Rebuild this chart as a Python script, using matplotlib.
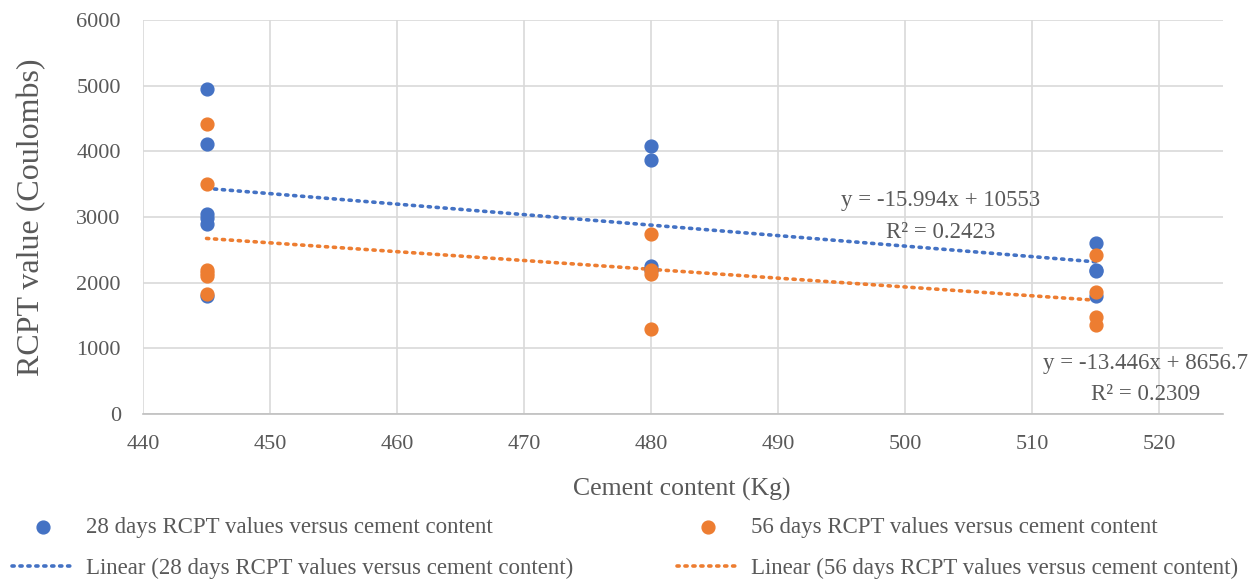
import numpy as np
import matplotlib.pyplot as plt

plt.rcParams['font.family'] = ['Liberation Serif', 'DejaVu Serif']

# 28 days RCPT values (Coulombs) against cement content (Kg)
cement_28 = [445, 445, 445, 445, 445, 445, 480, 480, 480, 480, 515, 515, 515, 515]
rcpt_28 = [4950, 4110, 3050, 2980, 2900, 1800, 4080, 3860, 2250, 2200, 2600, 2200, 2180, 1800]

# 56 days RCPT values
cement_56 = [445, 445, 445, 445, 445, 445, 480, 480, 480, 480, 515, 515, 515, 515]
rcpt_56 = [4420, 3500, 2200, 2150, 2100, 1830, 2740, 2200, 2130, 1300, 2420, 1850, 1480, 1350]

# trendline coefficients as printed on the chart
fit_28 = (-15.994, 10553)
fit_56 = (-13.446, 8656.7)
r2_28 = 0.2423
r2_56 = 0.2309

blue = '#4472C4'
orange = '#ED7D31'
grey = '#595959'

fig = plt.figure(figsize=(12.58, 5.82), dpi=100)
ax = fig.add_axes([0.1137, 0.2887, 0.8585, 0.677])

ax.scatter(cement_28, rcpt_28, s=85, color=blue, zorder=3,
           label='28 days RCPT values versus cement content')
ax.scatter(cement_56, rcpt_56, s=85, color=orange, zorder=3,
           label='56 days RCPT values versus cement content')

xs = np.array([min(cement_28), max(cement_28)])
ax.plot(xs, fit_28[0] * xs + fit_28[1], color=blue, lw=2.6, ls=(0, (0.6, 1.6)),
        dash_capstyle='round', zorder=2,
        label='Linear (28 days RCPT values versus cement content)')
xs = np.array([min(cement_56), max(cement_56)])
ax.plot(xs, fit_56[0] * xs + fit_56[1], color=orange, lw=2.6, ls=(0, (0.6, 1.6)),
        dash_capstyle='round', zorder=2,
        label='Linear (56 days RCPT values versus cement content)')

ax.text(502.8, 3250, f'y = {fit_28[0]}x + {fit_28[1]}', ha='center', va='center',
        fontsize=16.5, color=grey)
ax.text(502.8, 2765, f'R² = {r2_28}', ha='center', va='center', fontsize=16.5, color=grey)
ax.text(518.9, 770, f'y = {fit_56[0]}x + {fit_56[1]}', ha='center', va='center',
        fontsize=16.5, color=grey, clip_on=False)
ax.text(518.9, 298, f'R² = {r2_56}', ha='center', va='center', fontsize=16.5, color=grey)

ax.set_xlim(440, 525)
ax.set_ylim(0, 6000)
ax.set_xticks(range(440, 521, 10))
ax.set_yticks(range(0, 6001, 1000))
ax.grid(True, color='#D9D9D9', lw=1.2)
ax.set_axisbelow(True)
for side in ['left', 'right', 'top']:
    ax.spines[side].set_visible(False)
ax.spines['bottom'].set_color('#BFBFBF')
ax.spines['bottom'].set_linewidth(1.2)
ax.tick_params(length=0, labelsize=16, labelcolor=grey)
ax.tick_params(axis='x', pad=15)
ax.tick_params(axis='y', pad=16)

ax.set_xlabel('Cement content (Kg)', fontsize=18.5, color=grey)
ax.set_ylabel('RCPT value (Coulombs)', fontsize=23, color=grey)
ax.xaxis.set_label_coords(0.499, -0.162)
ax.yaxis.set_label_coords(-0.09, 0.5)

handles, labels = ax.get_legend_handles_labels()
order = [0, 2, 1, 3]
fig.legend([handles[i] for i in order], [labels[i] for i in order],
           loc='lower left', bbox_to_anchor=(-0.007, -0.031), ncol=2, frameon=False,
           fontsize=16.5, labelcolor=grey, handlelength=2.75, handletextpad=0.5,
           columnspacing=4.5, labelspacing=0.9)

fig.savefig('out.png', dpi=100)
